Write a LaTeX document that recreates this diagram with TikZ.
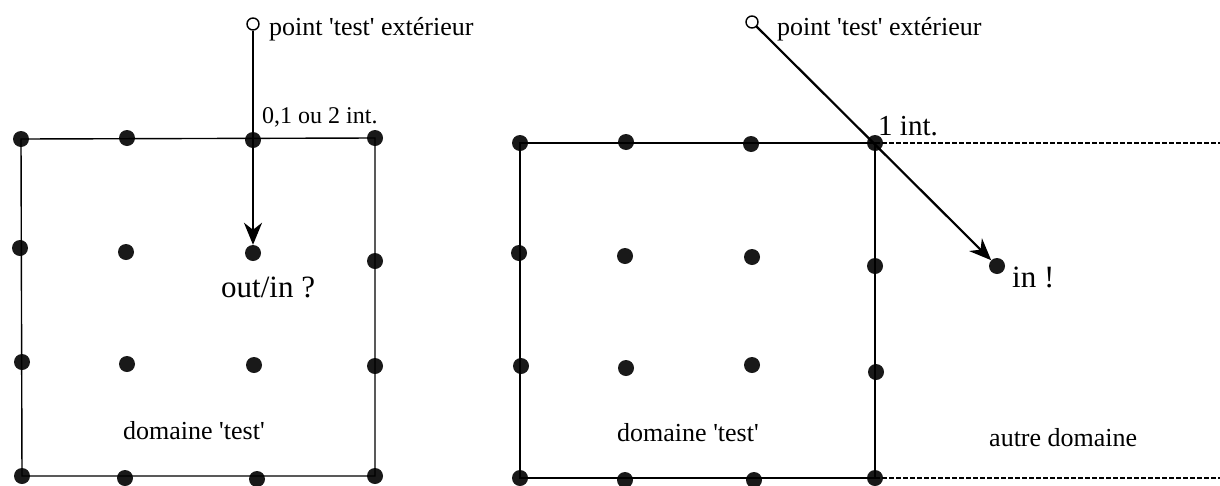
\documentclass[tikz,border=0pt]{standalone}
\usepackage{fontspec}
\setmainfont{Liberation Serif}
\usetikzlibrary{arrows.meta,positioning}

\newcommand{\q}{\textquotesingle}

\tikzset{
  dot/.style={circle, fill=black!90, inner sep=0pt, minimum size=16pt},
  ring/.style={circle, draw, line width=1.4pt, fill=white, inner sep=0pt, minimum size=12pt},
  lbl/.style={inner sep=0pt, anchor=base west, font=\fontsize{26}{28}\selectfont},
  biglbl/.style={inner sep=0pt, anchor=base west, font=\fontsize{31}{33}\selectfont},
  ray/.style={line width=2.2pt, -{Stealth[length=22pt, width=18pt, inset=7pt]}},
  border/.style={dashed, dash pattern=on 4.5pt off 2.5pt, line width=1.8pt}
}

\begin{document}
\begin{tikzpicture}[x=1pt, y=-1pt]
\useasboundingbox (0,0) rectangle (1220,485);

% left domain: grid of points
\foreach \n/\x/\y in {a11/21/139, a12/127/138, a13/253/140, a14/375/138,
                      a21/20/248, a22/126/252, a23/253/253, a24/375/261,
                      a31/22/362, a32/127/364, a33/254/365, a34/375/366,
                      a41/22/476, a42/125/478, a43/257/479, a44/375/476}
  \node[dot] (\n) at (\x,\y) {};

% left domain: box
\draw[line width=1.4pt] (a11.center) -- (a14.center) -- (a44.center)
  -- (a41.center) -- cycle;

% left: outside point and ray
\node[ring] (ringA) at (253,24) {};
\node[lbl] (extA) at (269,35) {point \q test\q{} extérieur};
\draw[ray] (ringA) -- (a23);
\node[lbl, font=\fontsize{24}{26}\selectfont] (intA) at (262,123) {0,1 ou 2 int.};
\node[biglbl] (qA) at (221,297) {out/in ?};
\node[lbl] (domA) at (123,439) {domaine \q test\q};

% right domain: grid of points
\foreach \n/\x/\y in {b11/520/143, b12/626/142, b13/751/144, b14/875/143,
                      b21/519/253, b22/625/256, b23/752/257, b24/875/266,
                      b31/521/366, b32/626/368, b33/752/365, b34/876/372,
                      b41/520/478, b42/625/480, b43/754/480, b44/875/478}
  \node[dot] (\n) at (\x,\y) {};

% right domain: box, shared edge and neighbour domain
\draw[line width=2.2pt] (b14.center) -- (b11.center) -- (b41.center) -- (b44.center);
\draw[line width=1.2pt] (b14.center) -- (b44.center);
\draw[border] (b14.center) -- (b44.center);
\coordinate (endT) at (1220,143);
\coordinate (endB) at (1220,478);
\draw[border] (b14.center) -- (endT);
\draw[border] (b44.center) -- (endB);

% right: outside point and ray
\node[ring] (ringB) at (752,22) {};
\node[lbl] (extB) at (777,35) {point \q test\q{} extérieur};
\node[dot] (inB) at (997,266) {};
\draw[ray] (ringB) -- (inB);
\node[biglbl, font=\fontsize{29}{31}\selectfont] (intB) at (878,135) {1 int.};
\node[biglbl] (okB) at (1012,287) {in !};
\node[lbl] (domB) at (617,441) {domaine \q test\q};
\node[lbl] (autre) at (989,446) {autre domaine};

\end{tikzpicture}
\end{document}
